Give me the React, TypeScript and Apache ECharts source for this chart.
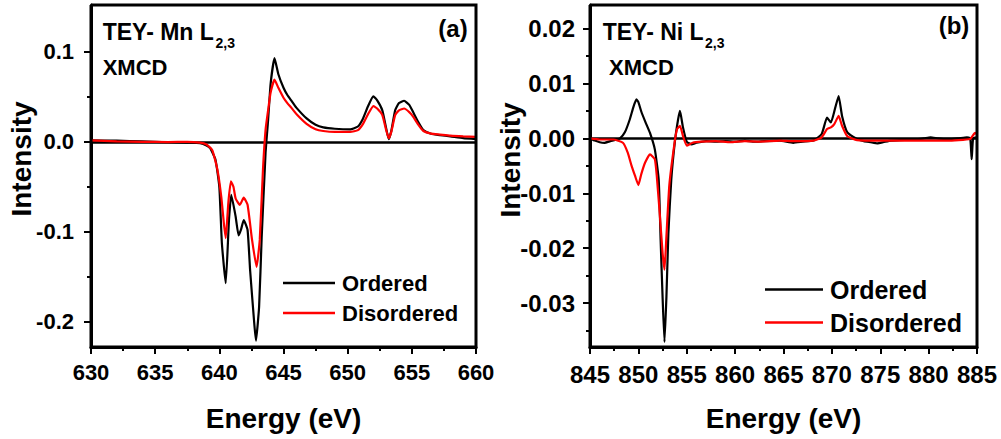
import React, { useEffect, useRef } from "react";
import * as echarts from "echarts";

const FONT = "'Liberation Sans', Arial, Helvetica, sans-serif";

// ---- Panel (a): Mn L2,3 XMCD ----
const mnXTicks = [630, 660];
const mnYRange = [-0.228, 0.152];
const mnYMajor = [-0.2, -0.1, 0, 0.1];
const mnYMinor = [-0.15, -0.05, 0.05];
const mnOrdered: number[][] = [
  [630, 0.0015], [632, 0.0012], [634, 0.0005], [636, -0.0005], [637.5, -0.001], [638.5, -0.0015],
  [639.0, -0.004], [639.3, -0.0074], [639.7, -0.02], [640.0, -0.05], [640.2, -0.113], [640.5, -0.157],
  [640.75, -0.087], [640.93, -0.059], [641.27, -0.083], [641.5, -0.104], [641.7, -0.097], [641.9, -0.087],
  [642.2, -0.098], [642.4, -0.143], [642.7, -0.198], [642.85, -0.221], [643.1, -0.183], [643.3, -0.106],
  [643.6, -0.013], [643.8, 0.024], [644.0, 0.065], [644.3, 0.093], [644.6, 0.075], [645.0, 0.06],
  [645.3, 0.052], [645.6, 0.046], [646.0, 0.038], [646.8, 0.026], [647.5, 0.019], [648.1, 0.016],
  [649.0, 0.0145], [650.2, 0.0138], [650.8, 0.017], [651.2, 0.026], [651.6, 0.04], [652.0, 0.0505],
  [652.3, 0.046], [652.7, 0.035], [653.0, 0.015], [653.2, 0.003], [653.4, 0.012], [653.7, 0.035],
  [654.0, 0.043], [654.4, 0.0456], [654.8, 0.041], [655.1, 0.033], [655.5, 0.022], [655.9, 0.013],
  [656.5, 0.009], [657.2, 0.0074], [658.0, 0.006], [659.0, 0.004], [660.0, 0.003],
];
const mnDisordered: number[][] = [
  [630, 0.0015], [632, 0.0005], [634, 0.0], [636, -0.0003], [637.5, 0.0], [638.5, -0.001],
  [639.0, -0.003], [639.45, -0.0092], [639.85, -0.031], [640.15, -0.061], [640.35, -0.09], [640.5, -0.107],
  [640.7, -0.068], [640.9, -0.044], [641.1, -0.05], [641.27, -0.063], [641.6, -0.07], [641.9, -0.062],
  [642.2, -0.07], [642.55, -0.109], [642.9, -0.139], [643.15, -0.109], [643.4, -0.031], [643.6, 0.013],
  [643.8, 0.035], [644.0, 0.055], [644.3, 0.069], [644.6, 0.06], [645.0, 0.049], [645.3, 0.043],
  [645.6, 0.038], [646.0, 0.031], [646.8, 0.02], [647.5, 0.014], [648.1, 0.012], [649.0, 0.011],
  [650.2, 0.011], [650.8, 0.013], [651.2, 0.02], [651.6, 0.031], [652.0, 0.0397], [652.3, 0.037],
  [652.7, 0.0297], [653.0, 0.013], [653.2, 0.004], [653.4, 0.011], [653.7, 0.0297], [654.0, 0.035],
  [654.4, 0.037], [654.8, 0.033], [655.1, 0.028], [655.5, 0.019], [655.9, 0.012], [656.5, 0.009],
  [657.2, 0.008], [658.0, 0.0068], [659.0, 0.006], [660.0, 0.0055],
];

// ---- Panel (b): Ni L2,3 XMCD ----
const niXTicks = [845, 885];
const niYRange = [-0.038, 0.0243];
const niYMajor = [-0.03, -0.02, -0.01, 0, 0.01, 0.02];
const niYMinor = [-0.035, -0.025, -0.015, -0.005, 0.005, 0.015];
const niOrdered: number[][] = [
  [845, 0], [845.5, -0.0004], [846, -0.0007], [846.5, -0.0008], [847.1, -0.0005], [847.6, -0.0003],
  [848.1, 0.0], [848.6, 0.0011], [849.1, 0.0034], [849.5, 0.0058], [849.8, 0.0071], [850.0, 0.0066],
  [850.3, 0.0049], [850.7, 0.0031], [851.2, 0.001], [851.7, -0.002], [852.1, -0.0075], [852.3, -0.0185],
  [852.5, -0.0288], [852.7, -0.0371], [852.9, -0.0288], [853.1, -0.0173], [853.4, -0.0075], [853.8, -0.0002],
  [854.1, 0.0034], [854.3, 0.005], [854.6, 0.0021], [855.0, -0.0006], [855.5, -0.0011], [856, -0.0008],
  [857, -0.0005], [858, -0.0006], [859, -0.0005], [860, -0.0006], [861, -0.0004], [862, -0.0006],
  [863, -0.0005], [864.6, -0.0004], [866.0, -0.0008], [867, -0.0006], [868.1, -0.0004], [868.95, 0.0008],
  [869.5, 0.0038], [869.9, 0.0029], [870.35, 0.0056], [870.7, 0.0077], [871.05, 0.0041], [871.6, 0.0011],
  [872.6, -0.0001], [873.3, -0.0005], [874.0, -0.0007], [874.7, -0.0009], [875.3, -0.0007], [876.1, -0.0004],
  [877, -0.0003], [878.5, -0.0002], [879.5, 0.0], [880.2, 0.0002], [881, 0.0], [881.9, -0.0001],
  [883, 0.0], [883.95, 0.0002], [884.3, 0.0], [884.45, -0.0038], [884.6, 0.0], [885, 0.0002],
];
const niDisordered: number[][] = [
  [845, 0], [846, -0.0002], [847.4, -0.0002], [848.4, -0.0008], [848.9, -0.0026], [849.3, -0.005],
  [849.65, -0.0068], [850.0, -0.0085], [850.3, -0.0065], [850.7, -0.0044], [851.2, -0.0029], [851.7, -0.0038],
  [851.9, -0.0068], [852.2, -0.0135], [852.5, -0.0208], [852.7, -0.0239], [852.9, -0.0178], [853.2, -0.0085],
  [853.7, -0.0013], [854.0, 0.0017], [854.3, 0.0023], [854.6, 0.0005], [855.0, -0.0013], [855.6, -0.0008],
  [856.5, -0.0006], [858, -0.0005], [859.5, -0.0007], [861, -0.0005], [862.5, -0.0006], [864.6, -0.0004],
  [866, -0.0005], [868.1, -0.0004], [868.95, 0.0002], [869.5, 0.0017], [869.9, 0.002], [870.25, 0.0026],
  [870.7, 0.0041], [871.05, 0.0023], [871.6, 0.0004], [872.6, -0.0003], [875, -0.0004], [878.5, -0.0004],
  [881.9, -0.0004], [884.3, -0.0001], [884.8, 0.001], [885, 0.0008],
];

const seriesNames = ["Ordered", "Disordered"];
const seriesColors = ["#000000", "#ff0000"];

const GRIDS = [
  { left: 91, top: 5, width: 385, height: 342 },
  { left: 590, top: 5, width: 387, height: 342 },
];
const FRAME_W = 3;

function xAxisFor(grid: number, range: number[], fontSize: number, margin: number) {
  return {
    gridIndex: grid,
    type: "value",
    position: "bottom",
    min: range[0],
    max: range[1],
    interval: 5,
    name: "Energy (eV)",
    nameLocation: "middle",
    nameGap: 57,
    nameTextStyle: { fontSize: 28, fontWeight: "bold", fontFamily: FONT, color: "#000" },
    axisLine: { show: true, onZero: false, lineStyle: { color: "#000", width: FRAME_W } },
    axisTick: { show: true, length: 7, lineStyle: { color: "#000", width: 2 } },
    minorTick: { show: true, splitNumber: 2, length: 4, lineStyle: { color: "#000", width: 2 } },
    axisLabel: { fontSize, fontWeight: "bold", fontFamily: FONT, color: "#000", margin },
    splitLine: { show: false },
  };
}

function yAxesFor(grid: number, range: number[], major: number[], minor: number[], digits: number, fontSize: number, margin: number) {
  return [
    {
      gridIndex: grid,
      type: "value",
      position: "left",
      min: range[0],
      max: range[1],
      axisLine: { show: true, onZero: false, lineStyle: { color: "#000", width: FRAME_W } },
      axisTick: { show: true, customValues: major, length: 7, lineStyle: { color: "#000", width: 2 } },
      axisLabel: {
        customValues: major,
        formatter: (v: number) => v.toFixed(digits),
        fontSize,
        fontWeight: "bold",
        fontFamily: FONT,
        color: "#000",
        margin,
      },
      splitLine: { show: false },
    },
    {
      gridIndex: grid,
      type: "value",
      position: "left",
      min: range[0],
      max: range[1],
      axisLine: { show: false, onZero: false },
      axisTick: { show: true, customValues: minor, length: 4, lineStyle: { color: "#000", width: 2 } },
      axisLabel: { show: false },
      splitLine: { show: false },
    },
  ];
}

function lineSeries(name: string, color: string, data: number[][], xi: number, yi: number, zero: boolean) {
  const s: any = {
    name,
    type: "line",
    xAxisIndex: xi,
    yAxisIndex: yi,
    data,
    showSymbol: false,
    symbol: "none",
    smooth: 0.15,
    lineStyle: { color, width: 2.2 },
    itemStyle: { color },
    z: 3,
  };
  if (zero) {
    s.markLine = {
      silent: true,
      symbol: ["none", "none"],
      label: { show: false },
      lineStyle: { color: "#000", width: 2.5, type: "solid" },
      data: [{ yAxis: 0 }],
      z: 1,
    };
  }
  return s;
}

function txt(text: string, x: number, y: number, size: number, align = "left", rotation = 0) {
  return {
    type: "text",
    x,
    y,
    rotation,
    style: {
      text,
      font: `bold ${size}px ${FONT}`,
      fill: "#000",
      align,
      verticalAlign: "middle",
    },
    z: 10,
  };
}

// panel frame drawn as a closed polyline around each grid
function frameLine(g: { left: number; top: number; width: number; height: number }) {
  const l = g.left, t = g.top, r = g.left + g.width, b = g.top + g.height;
  return {
    type: "polyline",
    shape: { points: [[l, t], [r, t], [r, b], [l, b], [l, t]] },
    style: { stroke: "#000", lineWidth: FRAME_W, fill: null, lineJoin: "miter" },
    z: 30,
  };
}

function legendFor(left: number, top: number, itemWidth: number, fontSize: number) {
  return {
    data: seriesNames,
    orient: "vertical",
    left,
    top,
    icon: "rect",
    itemWidth,
    itemHeight: 2.5,
    itemGap: 8,
    padding: 0,
    selectedMode: false,
    textStyle: { fontSize, fontWeight: "bold", fontFamily: FONT, color: "#000", padding: [0, 0, 0, 2] },
  };
}

export default function App() {
  const ref = useRef<HTMLDivElement>(null);
  useEffect(() => {
    if (!ref.current) return;
    const chart = echarts.init(ref.current, undefined, { renderer: "svg" });
    const yA = yAxesFor(0, mnYRange, mnYMajor, mnYMinor, 1, 22, 17);
    const yB = yAxesFor(1, niYRange, niYMajor, niYMinor, 2, 24, 15);
    chart.setOption({
      animation: false,
      backgroundColor: "#fff",
      grid: GRIDS.map((g) => ({ ...g, show: false })),
      xAxis: [xAxisFor(0, mnXTicks, 22, 14), xAxisFor(1, niXTicks, 24, 15)],
      yAxis: [...yA, ...yB],
      legend: [legendFor(283, 272, 52, 22), legendFor(765, 277, 58, 25)],
      series: [
        lineSeries(seriesNames[0], seriesColors[0], mnOrdered, 0, 0, true),
        lineSeries(seriesNames[1], seriesColors[1], mnDisordered, 0, 0, false),
        lineSeries(seriesNames[0], seriesColors[0], niOrdered, 1, 2, true),
        lineSeries(seriesNames[1], seriesColors[1], niDisordered, 1, 2, false),
      ],
      graphic: [
        frameLine(GRIDS[0]),
        frameLine(GRIDS[1]),
        txt("Intensity", 21.5, 159, 28, "center", Math.PI / 2),
        txt("Intensity", 510, 160, 28, "center", Math.PI / 2),
        txt("TEY- Mn L", 102.7, 32.2, 23),
        txt("2,3", 215.5, 43.3, 14),
        txt("XMCD", 102.7, 67.5, 22),
        txt("(a)", 453, 28, 24, "center"),
        txt("TEY- Ni L", 602.7, 32.2, 23),
        txt("2,3", 705, 43.3, 14),
        txt("XMCD", 609, 67.5, 22),
        txt("(b)", 954, 25, 24, "center"),
      ],
    });
    return () => chart.dispose();
  }, []);
  return <div ref={ref} style={{ position: "fixed", left: 0, top: 0, width: 1001, height: 439 }} />;
}
